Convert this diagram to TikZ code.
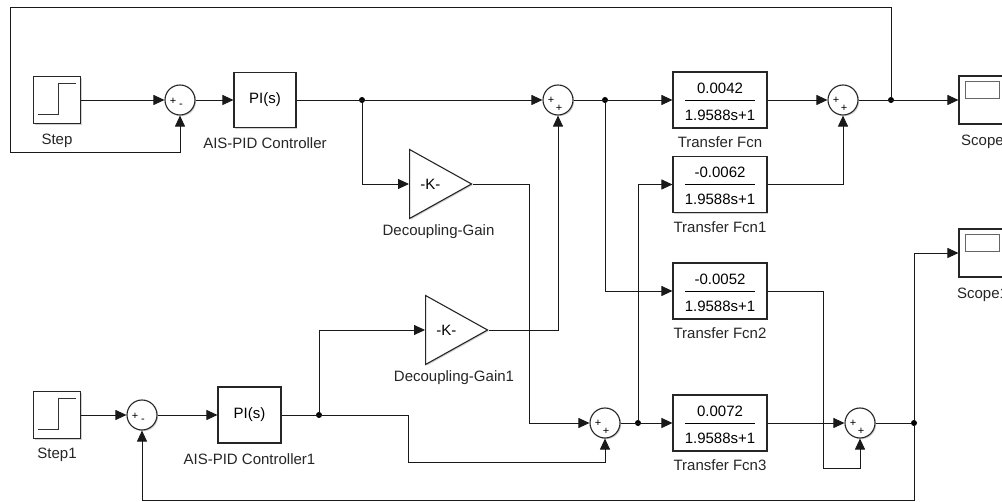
\documentclass[tikz,border=0pt]{standalone}
\usepackage{fontspec}
\setmainfont{Liberation Sans}
\usetikzlibrary{positioning, arrows.meta, shapes.geometric, shadows}
\newcommand{\blockfont}{\fontsize{15}{18}\selectfont}
\newcommand{\signfont}{\fontsize{11}{13}\selectfont}
\newcommand{\tfcn}[1]{\begin{tabular}{@{}c@{}}\rule[-6.5pt]{0pt}{25.4pt}#1\\\hline\rule[-5.4pt]{0pt}{25.4pt}1.9588s+1\end{tabular}}
\tikzset{
  blockshadow/.style={
    drop shadow={shadow xshift=1.2pt, shadow yshift=-1.2pt, fill=black!35, opacity=0.5}
  },
  block/.style={
    rectangle,
    draw=black!85,
    line width=1.1pt,
    fill=white,
    font=\blockfont,
    inner sep=0pt,
    blockshadow
  },
  tfblock/.style={
    block,
    minimum width=94pt,
    minimum height=56pt
  },
  scopeblock/.style={
    block,
    minimum width=47pt,
    minimum height=48pt
  },
  gainnode/.style={
    isosceles triangle,
    isosceles triangle stretches=true,
    draw=black!85,
    line width=1.1pt,
    fill=white,
    minimum width=69pt,
    minimum height=62pt,
    inner sep=0pt,
    font=\blockfont,
    blockshadow
  },
  sumnode/.style={
    circle,
    draw=black!85,
    line width=1.1pt,
    fill=white,
    minimum size=30pt,
    inner sep=0pt,
    blockshadow
  },
  sign/.style={font=\signfont, inner sep=0pt},
  sumpm/.style={
    sumnode,
    label={[sign, xshift=-7pt, yshift=-1pt]center:+},
    label={[sign, xshift=1pt, yshift=-6pt]center:-}
  },
  sumpp/.style={
    sumnode,
    label={[sign, xshift=-7pt, yshift=0pt]center:+},
    label={[sign, xshift=1pt, yshift=-8.5pt]center:+}
  },
  junction/.style={circle, fill=black, inner sep=0pt, minimum size=6pt},
  wire/.style={line width=0.9pt, draw=black!90},
  signal/.style={wire, -{Triangle[length=11pt, width=10pt]}},
  blocklabel/.style={
    font=\blockfont,
    text=black!85,
    inner sep=0pt,
    text height=10.7pt,
    text depth=3.2pt
  }
}
\begin{document}
\begin{tikzpicture}[x=1pt, y=-1pt]
  \clip (0,0) rectangle (1002,502);
  \fill[white] (0,0) rectangle (1002,502);

  % upper loop
  \node[block, minimum width=47pt, minimum height=47pt] (step) at (57,100) {};
  \draw[line width=0.8pt, black!80] ([shift={(-19,14.5)}]step.center) -- ++(20,0) -- ++(0,-31) -- ++(18,0);
  \node[sumpm] (err) at (180,100) {};
  \node[block, minimum width=62pt, minimum height=55pt] (pi) at (265,100) {PI(s)};
  \node[junction] (j1) at (362,100) {};
  \node[sumpp] (mix) at (558,100) {};
  \node[junction] (j2) at (605,100) {};
  \node[tfblock] (tf) at (720,100) {\tfcn{0.0042}};
  \node[sumpp] (out) at (843,100) {};
  \node[junction] (j3) at (891,100) {};
  \node[scopeblock] (scope) at (982.5,100) {};
  \draw[black!60, line width=0.8pt] ([shift={(7,6)}]scope.north west) rectangle ([shift={(-7,23)}]scope.north east);

  \node[gainnode, anchor=apex] (gain) at (473,184) {-K-};
  \node[tfblock] (tf1) at (720,184.5) {\tfcn{-0.0062}};
  \node[tfblock] (tf2) at (720,291) {\tfcn{-0.0052}};
  \node[scopeblock] (scope1) at (982.5,253) {};
  \draw[black!60, line width=0.8pt] ([shift={(7,6)}]scope1.north west) rectangle ([shift={(-7,23)}]scope1.north east);

  % lower loop
  \node[block, minimum width=47pt, minimum height=47pt] (step1) at (57,415) {};
  \draw[line width=0.8pt, black!80] ([shift={(-19,14.5)}]step1.center) -- ++(20,0) -- ++(0,-31) -- ++(18,0);
  \node[sumpm] (err1) at (142,415) {};
  \node[block, minimum width=63pt, minimum height=56pt] (pi1) at (249.5,415) {PI(s)};
  \node[junction] (j4) at (319,415) {};
  \node[gainnode, anchor=apex] (gain1) at (489,330) {-K-};
  \node[sumpp] (mix1) at (605,423) {};
  \node[junction] (j5) at (638,423) {};
  \node[tfblock] (tf3) at (720,423) {\tfcn{0.0072}};
  \node[sumpp] (out1) at (860,423) {};
  \node[junction] (j6) at (914,423) {};

  % labels
  \node[blocklabel, below=9.5pt of step] (steplbl) {Step};
  \node[blocklabel, below=9.5pt of pi] (pilbl) {AIS-PID Controller};
  \node[blocklabel, anchor=north] (gainlbl) at ([shift={(-34.5,40.5)}]gain.apex) {Decoupling-Gain};
  \node[blocklabel, below=8.5pt of tf] (tflbl) {Transfer Fcn};
  \node[blocklabel, below=8.5pt of tf1] (tf1lbl) {Transfer Fcn1};
  \node[blocklabel, below=8.5pt of tf2] (tf2lbl) {Transfer Fcn2};
  \node[blocklabel, below=8.5pt of tf3] (tf3lbl) {Transfer Fcn3};
  \node[blocklabel, below=10pt of scope] (scopelbl) {Scope};
  \node[blocklabel, below=10pt of scope1] (scope1lbl) {Scope1};
  \node[blocklabel, below=9pt of step1] (step1lbl) {Step1};
  \node[blocklabel, below=10pt of pi1] (pi1lbl) {AIS-PID Controller1};
  \node[blocklabel, anchor=north] (gain1lbl) at ([shift={(-35,41)}]gain1.apex) {Decoupling-Gain1};

  % bends
  \coordinate (k1) at (529,184);
  \coordinate (k2) at (408,462);
  \coordinate (k3) at (823,468);
  \coordinate (fb1) at (10,7.5);
  \coordinate (fb2) at (10,152);
  \coordinate (fb3) at (142,500.5);

  % upper signals
  \draw[signal] (step.east) -- (err.west);
  \draw[signal] (err.east) -- (pi.west);
  \draw[signal] (pi.east) -- (mix.west);
  \draw[signal] (j1) |- (gain.west);
  \draw[signal] (gain.apex) -- (k1) |- (mix1.west);
  \draw[signal] (mix.east) -- (tf.west);
  \draw[signal] (j2) |- (tf2.west);
  \draw[signal] (tf.east) -- (out.west);
  \draw[signal] (out.east) -- (scope.west);
  \draw[signal] (j3) |- (fb1) -- (fb2) -| (err.south);
  \draw[signal] (tf1.east) -| (out.south);

  % lower signals
  \draw[signal] (step1.east) -- (err1.west);
  \draw[signal] (err1.east) -- (pi1.west);
  \draw[signal] (pi1.east) -| (k2) -| (mix1.south);
  \draw[signal] (j4) |- (gain1.west);
  \draw[signal] (gain1.apex) -| (mix.south);
  \draw[signal] (mix1.east) -- (tf3.west);
  \draw[signal] (j5) |- (tf1.west);
  \draw[signal] (tf3.east) -- (out1.west);
  \draw[signal] (tf2.east) -| (k3) -| (out1.south);
  \draw[wire] (out1.east) -- (j6);
  \draw[signal] (j6) |- (scope1.west);
  \draw[signal] (j6) |- (fb3) -- (err1.south);
\end{tikzpicture}
\end{document}
